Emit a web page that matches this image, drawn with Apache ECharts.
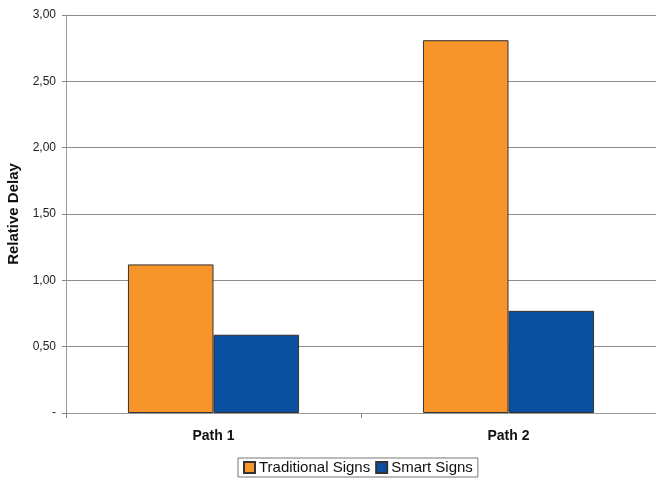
<!DOCTYPE html>
<html><head><meta charset="utf-8">
<script src="https://cdn.jsdelivr.net/npm/echarts@6/dist/echarts.min.js"></script>
<style>html,body{margin:0;padding:0;background:#fff}#c{width:656px;height:479px}</style>
</head><body><div id="c"></div>
<script>
const categories = ['Path 1', 'Path 2'];
const traditionalSigns = [1.12, 2.81];
const smartSigns = [0.59, 0.77];
const yTicks = [0, 0.5, 1, 1.5, 2, 2.5, 3];

const chart = echarts.init(document.getElementById('c'), null, {renderer: 'canvas'});
const font = 'Liberation Sans, Arial, sans-serif';
chart.setOption({
  animation: false,
  backgroundColor: '#fff',
  grid: {left: 66, right: 0, top: 15, bottom: 66, containLabel: false, outerBoundsMode: 'none'},
  xAxis: {
    type: 'category', data: categories,
    axisLine: {show: true, lineStyle: {color: '#999', width: 1}},
    axisTick: {show: true, length: 5, lineStyle: {color: '#888'}},
    axisLabel: {color: '#111', fontFamily: font, fontSize: 14, fontWeight: 'bold', margin: 16}
  },
  yAxis: {
    type: 'value', min: yTicks[0], max: yTicks[yTicks.length - 1], interval: 0.5,
    name: 'Relative Delay', nameLocation: 'middle', nameGap: 43,
    nameTextStyle: {fontFamily: font, fontSize: 15, fontWeight: 'bold', color: '#111'},
    axisLine: {show: true, lineStyle: {color: '#999', width: 1}},
    axisTick: {show: true, length: 4, lineStyle: {color: '#888'}},
    axisLabel: {color: '#222', fontFamily: font, fontSize: 12, margin: 10,
      formatter: v => v === 0 ? '-' : v.toFixed(2).replace('.', ',')},
    splitLine: {show: true, lineStyle: {color: '#8c8c8c', width: 1}}
  },
  legend: {
    bottom: 2, left: 238,
    itemWidth: 11, itemHeight: 11, itemGap: 5,
    borderColor: '#777', borderWidth: 1, padding: [2, 5, 2, 5],
    icon: 'rect',
    textStyle: {fontFamily: font, fontSize: 15, color: '#111', padding: [0, 0, 0, -1]},
    data: ['Traditional Signs', 'Smart Signs']
  },
  series: [
    {name: 'Traditional Signs', type: 'bar', data: traditionalSigns, barGap: '0%', barCategoryGap: '42%',
     itemStyle: {color: '#F7942A', borderColor: '#333', borderWidth: 1}},
    {name: 'Smart Signs', type: 'bar', data: smartSigns, barGap: '0%', barCategoryGap: '42%',
     itemStyle: {color: '#0B50A0', borderColor: '#333', borderWidth: 1}}
  ]
});
</script></body></html>
